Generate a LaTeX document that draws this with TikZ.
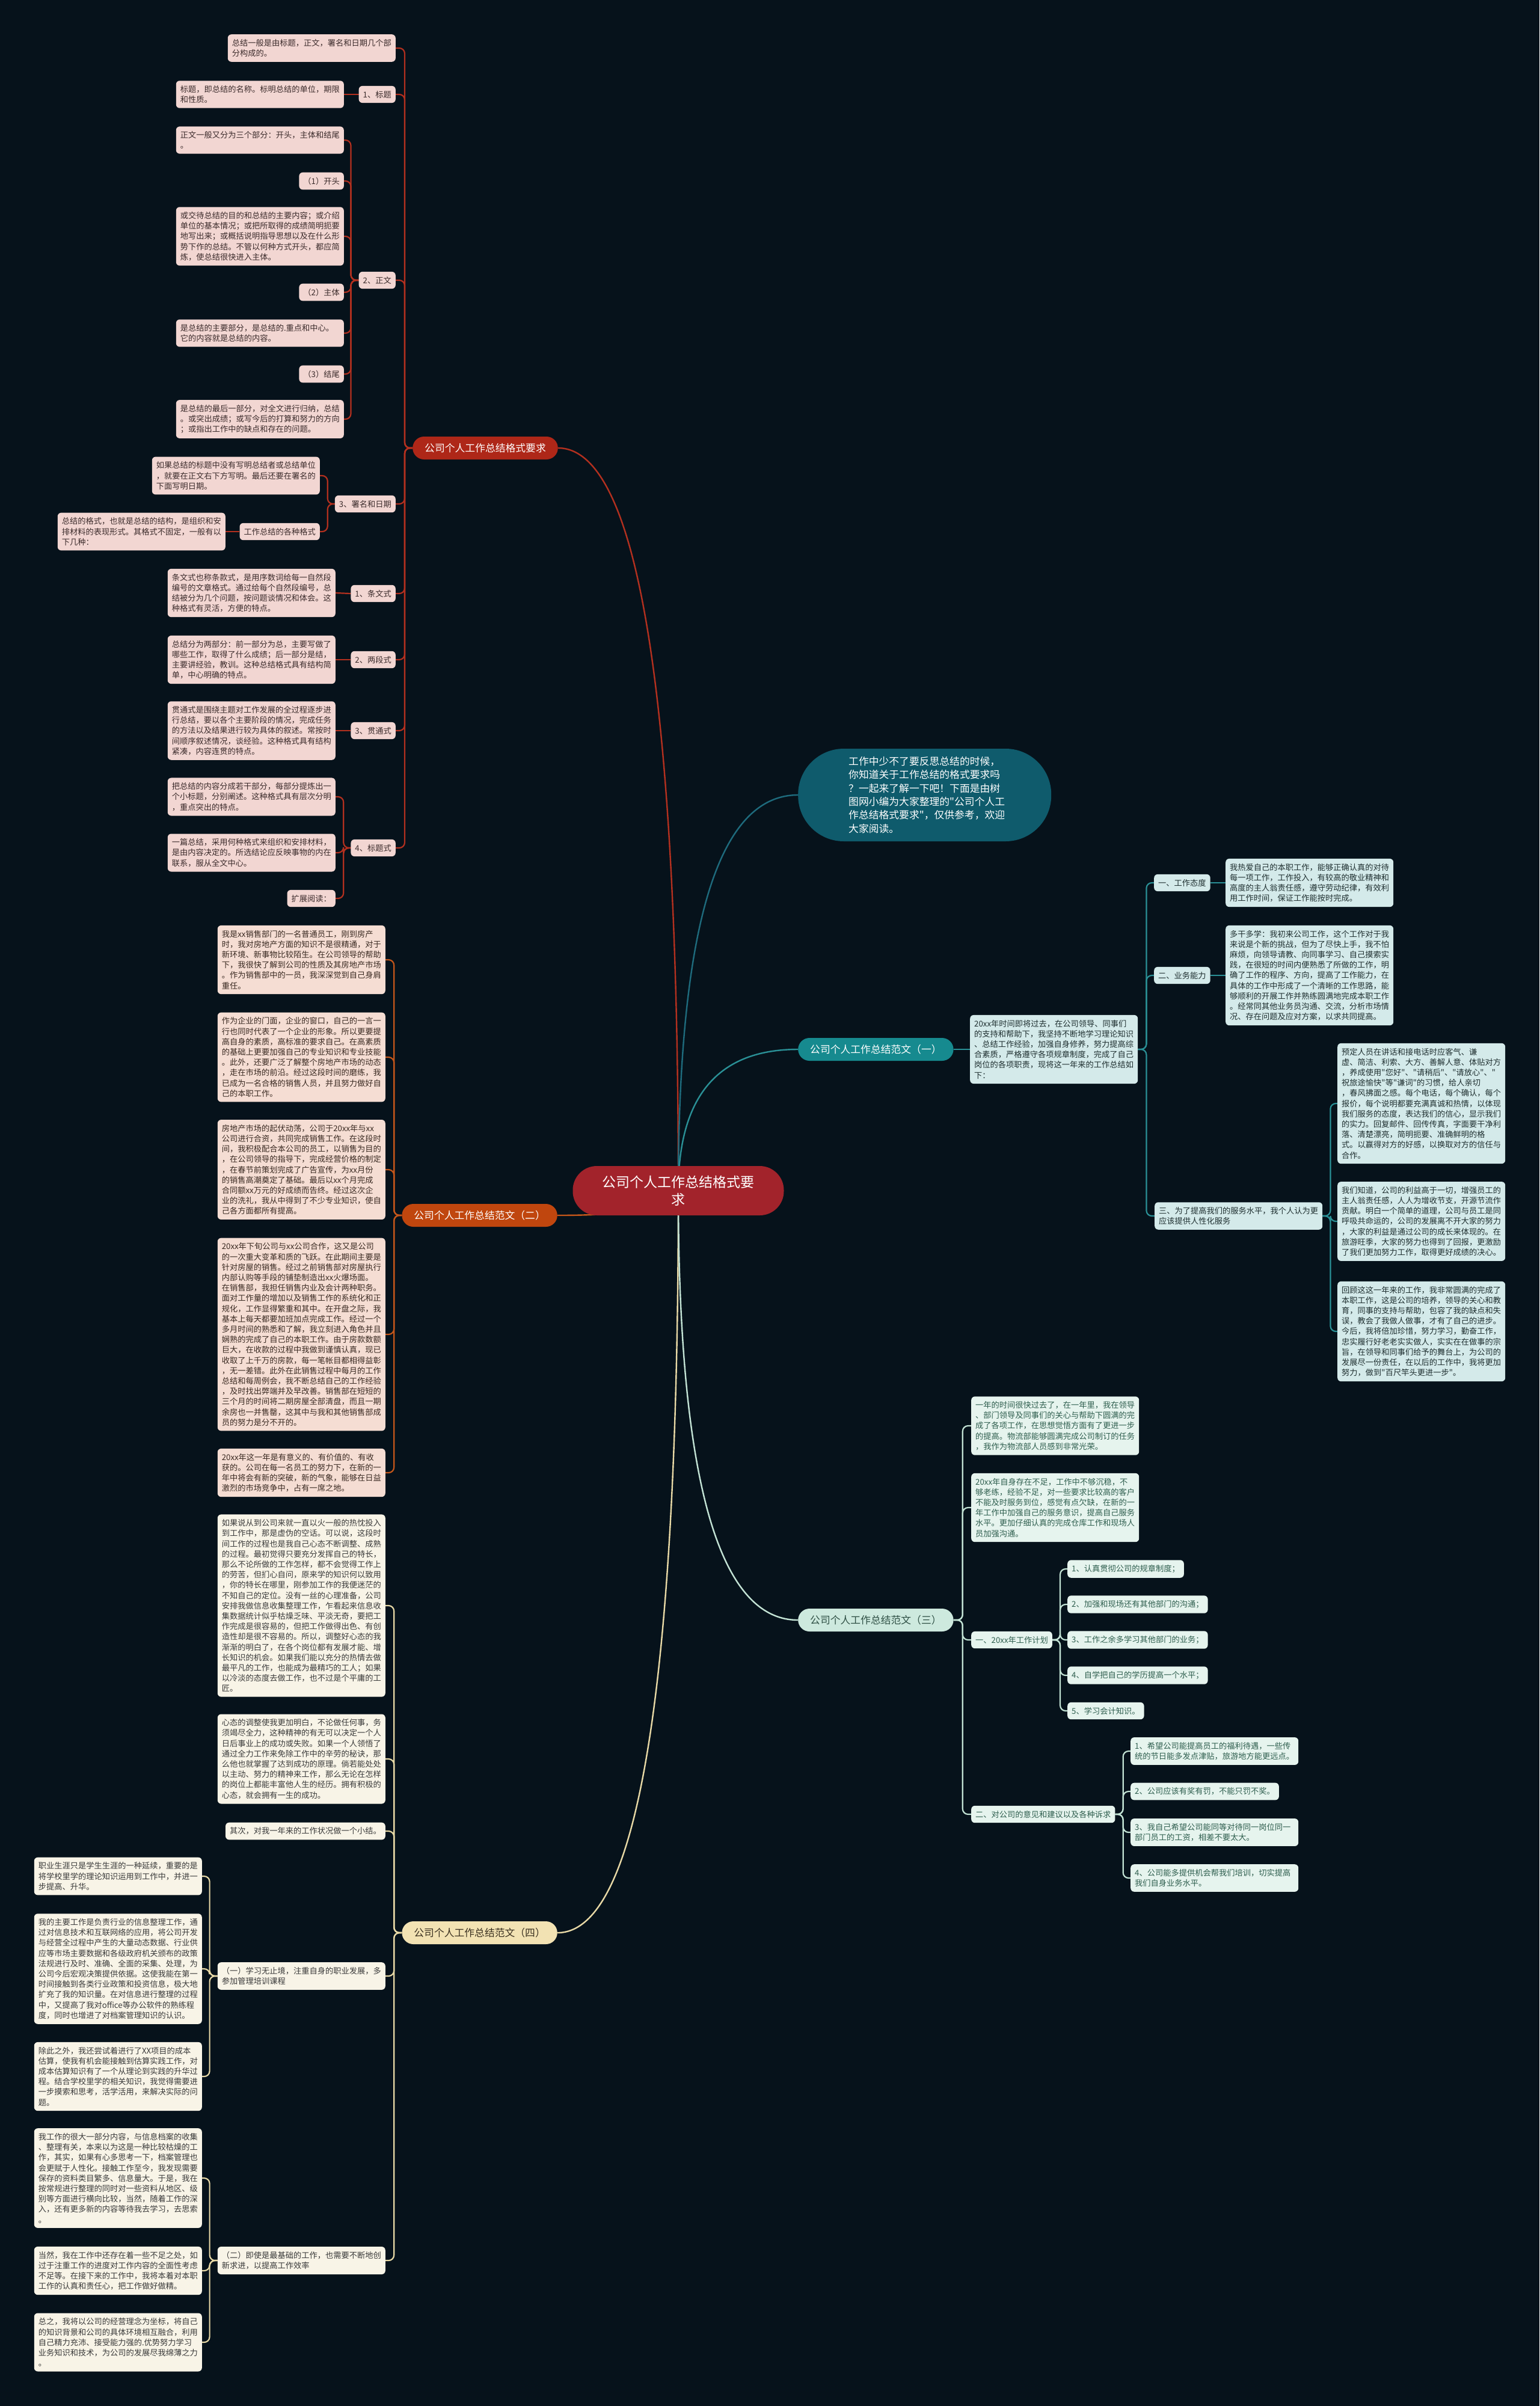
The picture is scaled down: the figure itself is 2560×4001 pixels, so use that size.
\documentclass[tikz,border=0pt]{standalone}
\usepackage{fontspec}
\newfontfamily\cjk{Noto Sans CJK SC}
\pgfdeclarelayer{bgl}
\pgfdeclarelayer{edges}
\pgfsetlayers{bgl,edges,main}
\definecolor{bgc}{HTML}{06121B}
\definecolor{ctrfill}{HTML}{A2232B}
\definecolor{redline}{HTML}{B3301F}
\definecolor{bonefill}{HTML}{AE2718}
\definecolor{pkfill}{HTML}{F2D6D2}
\definecolor{pktext}{HTML}{3B2B2B}
\definecolor{btwofill}{HTML}{C0460E}
\definecolor{btwoline}{HTML}{C4561A}
\definecolor{pcfill}{HTML}{F5DDD3}
\definecolor{pctext}{HTML}{3A2A22}
\definecolor{bfourfill}{HTML}{F2E2B3}
\definecolor{bfourtext}{HTML}{3A3020}
\definecolor{bfourline}{HTML}{E8D9A6}
\definecolor{crfill}{HTML}{F8F4E7}
\definecolor{crtext}{HTML}{3A3A3A}
\definecolor{introfill}{HTML}{0F5B6C}
\definecolor{introline}{HTML}{1E6B7D}
\definecolor{ronefill}{HTML}{168A8F}
\definecolor{roneline}{HTML}{2A9096}
\definecolor{cyfill}{HTML}{D4EAEA}
\definecolor{cytext}{HTML}{1F2F30}
\definecolor{rthreefill}{HTML}{CDE9DE}
\definecolor{rthreetext}{HTML}{2E4F44}
\definecolor{rthreeline}{HTML}{C3E3D5}
\definecolor{mnfill}{HTML}{E6F4EE}
\definecolor{mntext}{HTML}{2E5E4E}
\tikzset{
  txt/.style={font={\cjk\fontsize{13.25}{17.2}\selectfont}},
  box/.style={txt, rounded corners=6pt, inner xsep=7pt, inner ysep=8pt, align=left},
  wbox/.style={box, text width=265pt},
  pkb/.style={fill=pkfill, text=pktext},
  pcb/.style={fill=pcfill, text=pctext},
  crb/.style={fill=crfill, text=crtext},
  cyb/.style={fill=cyfill, text=cytext},
  mnb/.style={fill=mnfill, text=mntext},
  branch/.style={font={\cjk\fontsize{16.8}{20}\selectfont}, rounded corners=19pt, minimum height=38pt, inner xsep=20pt, inner ysep=2pt},
  ctrnode/.style={font={\cjk\fontsize{23}{29.5}\selectfont}, fill=ctrfill, text=white, rounded corners=40pt, minimum width=351pt, minimum height=82pt, align=center},
  intronode/.style={font={\cjk\fontsize{16.8}{22.3}\selectfont}, fill=introfill, text=white, rounded corners=76pt, minimum width=421pt, minimum height=154pt, text width=253pt, align=left},
  ed/.style={line width=2.2pt, rounded corners=9pt},
  topline/.style={line width=2.4pt}
}
\begin{document}
\begin{tikzpicture}[x=1pt,y=-1pt]
\begin{pgfonlayer}{bgl}
\fill[bgc] (0,0) rectangle (2560,4001);
\end{pgfonlayer}
\useasboundingbox (0,0) rectangle (2560,4001);

% ---------- center and branches ----------
\node[ctrnode] (ctr) at (1128,1980) {公司个人工作总结格式要\\求};
\node[branch, fill=bonefill, text=white, anchor=east] (b1) at (928,745) {公司个人工作总结格式要求};
\node[branch, fill=btwofill, text=white, anchor=east] (b2) at (927,2021) {公司个人工作总结范文（二）};
\node[branch, fill=bfourfill, text=bfourtext, anchor=east] (b4) at (927,3214) {公司个人工作总结范文（四）};
\node[intronode, anchor=west] (intro) at (1327,1322) {工作中少不了要反思总结的时候，\\你知道关于工作总结的格式要求吗\\？一起来了解一下吧！下面是由树\\图网小编为大家整理的"公司个人工\\作总结格式要求"，仅供参考，欢迎\\大家阅读。};
\node[branch, fill=ronefill, text=white, anchor=west] (r1) at (1327,1745) {公司个人工作总结范文（一）};
\node[branch, fill=rthreefill, text=rthreetext, anchor=west] (r3) at (1327,2694) {公司个人工作总结范文（三）};

% ---------- branch 1 ----------
\node[wbox,pkb,anchor=east] (t0) at (658,80) {总结一般是由标题，正文，署名和日期几个部\\分构成的。};
\node[box,pkb,anchor=east] (l1) at (658,157) {1、标题};
\node[wbox,pkb,anchor=east] (l1a) at (572,157) {标题，即总结的名称。标明总结的单位，期限\\和性质。};
\node[box,pkb,anchor=east] (l2) at (658,466) {2、正文};
\node[wbox,pkb,anchor=east] (l2a) at (572,233) {正文一般又分为三个部分：开头，主体和结尾\\。};
\node[box,pkb,anchor=east] (l2b) at (572,301) {（1）开头};
\node[wbox,pkb,anchor=east] (l2c) at (572,393) {或交待总结的目的和总结的主要内容；或介绍\\单位的基本情况；或把所取得的成绩简明扼要\\地写出来；或概括说明指导思想以及在什么形\\势下作的总结。不管以何种方式开头，都应简\\炼，使总结很快进入主体。};
\node[box,pkb,anchor=east] (l2d) at (572,486) {（2）主体};
\node[wbox,pkb,anchor=east] (l2e) at (572,554) {是总结的主要部分，是总结的.重点和中心。\\它的内容就是总结的内容。};
\node[box,pkb,anchor=east] (l2f) at (572,622) {（3）结尾};
\node[wbox,pkb,anchor=east] (l2g) at (572,697) {是总结的最后一部分，对全文进行归纳，总结\\。或突出成绩；或写今后的打算和努力的方向\\；或指出工作中的缺点和存在的问题。};
\node[box,pkb,anchor=east] (l3) at (658,838) {3、署名和日期};
\node[wbox,pkb,anchor=east] (l3a) at (532,791) {如果总结的标题中没有写明总结者或总结单位\\，就要在正文右下方写明。最后还要在署名的\\下面写明日期。};
\node[box,pkb,anchor=east] (l3b) at (532,884) {工作总结的各种格式};
\node[wbox,pkb,anchor=east] (l3c) at (375,884) {总结的格式，也就是总结的结构，是组织和安\\排材料的表现形式。其格式不固定，一般有以\\下几种：};
\node[box,pkb,anchor=east] (l4) at (658,987) {1、条文式};
\node[wbox,pkb,anchor=east] (l4a) at (558,986) {条文式也称条款式，是用序数词给每一自然段\\编号的文章格式。通过给每个自然段编号，总\\结被分为几个问题，按问题谈情况和体会。这\\种格式有灵活，方便的特点。};
\node[box,pkb,anchor=east] (l5) at (658,1097) {2、两段式};
\node[wbox,pkb,anchor=east] (l5a) at (558,1097) {总结分为两部分：前一部分为总，主要写做了\\哪些工作，取得了什么成绩；后一部分是结，\\主要讲经验，教训。这种总结格式具有结构简\\单，中心明确的特点。};
\node[box,pkb,anchor=east] (l6) at (658,1215) {3、贯通式};
\node[wbox,pkb,anchor=east] (l6a) at (558,1215) {贯通式是围绕主题对工作发展的全过程逐步进\\行总结，要以各个主要阶段的情况，完成任务\\的方法以及结果进行较为具体的叙述。常按时\\间顺序叙述情况，谈经验。这种格式具有结构\\紧凑，内容连贯的特点。};
\node[box,pkb,anchor=east] (l7) at (658,1410) {4、标题式};
\node[wbox,pkb,anchor=east] (l7a) at (558,1325) {把总结的内容分成若干部分，每部分提炼出一\\个小标题，分别阐述。这种格式具有层次分明\\，重点突出的特点。};
\node[wbox,pkb,anchor=east] (l7b) at (558,1418) {一篇总结，采用何种格式来组织和安排材料，\\是由内容决定的。所选结论应反映事物的内在\\联系，服从全文中心。};
\node[box,pkb,anchor=east] (l7c) at (558,1494) {扩展阅读：};

% ---------- branch 2 ----------
\node[wbox,pcb,anchor=east] (b2a) at (641,1596) {我是xx销售部门的一名普通员工，刚到房产\\时，我对房地产方面的知识不是很精通，对于\\新环境、新事物比较陌生。在公司领导的帮助\\下，我很快了解到公司的性质及其房地产市场\\。作为销售部中的一员，我深深觉到自己身肩\\重任。};
\node[wbox,pcb,anchor=east] (b2b) at (641,1758) {作为企业的门面，企业的窗口，自己的一言一\\行也同时代表了一个企业的形象。所以更要提\\高自身的素质，高标准的要求自己。在高素质\\的基础上更要加强自己的专业知识和专业技能\\。此外，还要广泛了解整个房地产市场的动态\\，走在市场的前沿。经过这段时间的磨练，我\\已成为一名合格的销售人员，并且努力做好自\\己的本职工作。};
\node[wbox,pcb,anchor=east] (b2c) at (641,1945) {房地产市场的起伏动荡，公司于20xx年与xx\\公司进行合资，共同完成销售工作。在这段时\\间，我积极配合本公司的员工，以销售为目的\\，在公司领导的指导下，完成经营价格的制定\\，在春节前策划完成了广告宣传，为xx月份\\的销售高潮奠定了基础。最后以xx个月完成\\合同额xx万元的好成绩而告终。经过这次企\\业的洗礼，我从中得到了不少专业知识，使自\\己各方面都所有提高。};
\node[wbox,pcb,anchor=east] (b2d) at (641,2219) {20xx年下旬公司与xx公司合作，这又是公司\\的一次重大变革和质的飞跃。在此期间主要是\\针对房屋的销售。经过之前销售部对房屋执行\\内部认购等手段的铺垫制造出xx火爆场面。\\在销售部，我担任销售内业及会计两种职务。\\面对工作量的增加以及销售工作的系统化和正\\规化，工作显得繁重和其中。在开盘之际，我\\基本上每天都要加班加点完成工作。经过一个\\多月时间的熟悉和了解，我立刻进入角色并且\\娴熟的完成了自己的本职工作。由于房款数额\\巨大，在收款的过程中我做到谨慎认真，现已\\收取了上千万的房款，每一笔帐目都相得益彰\\，无一差错。此外在此销售过程中每月的工作\\总结和每周例会，我不断总结自己的工作经验\\，及时找出弊端并及早改善。销售部在短短的\\三个月的时间将二期房屋全部清盘，而且一期\\余房也一并售罄，这其中与我和其他销售部成\\员的努力是分不开的。};
\node[wbox,pcb,anchor=east] (b2e) at (641,2449) {20xx年这一年是有意义的、有价值的、有收\\获的。公司在每一名员工的努力下，在新的一\\年中将会有新的突破，新的气象，能够在日益\\激烈的市场竞争中，占有一席之地。};

% ---------- branch 4 ----------
\node[wbox,crb,anchor=east] (b4a) at (641,2670) {如果说从到公司来就一直以火一般的热忱投入\\到工作中，那是虚伪的空话。可以说，这段时\\间工作的过程也是我自己心态不断调整、成熟\\的过程。最初觉得只要充分发挥自己的特长，\\那么不论所做的工作怎样，都不会觉得工作上\\的劳苦，但扪心自问，原来学的知识何以致用\\，你的特长在哪里，刚参加工作的我便迷茫的\\不知自己的定位。没有一丝的心理准备，公司\\安排我做信息收集整理工作，乍看起来信息收\\集数据统计似乎枯燥乏味、平淡无奇，要把工\\作完成是很容易的，但把工作做得出色、有创\\造性却是很不容易的。所以，调整好心态的我\\渐渐的明白了，在各个岗位都有发展才能、增\\长知识的机会。如果我们能以充分的热情去做\\最平凡的工作，也能成为最精巧的工人；如果\\以冷淡的态度去做工作，也不过是个平庸的工\\匠。};
\node[wbox,crb,anchor=east] (b4b) at (641,2925) {心态的调整使我更加明白，不论做任何事，务\\须竭尽全力，这种精神的有无可以决定一个人\\日后事业上的成功或失败。如果一个人领悟了\\通过全力工作来免除工作中的辛劳的秘诀，那\\么他也就掌握了达到成功的原理。倘若能处处\\以主动、努力的精神来工作，那么无论在怎样\\的岗位上都能丰富他人生的经历。拥有积极的\\心态，就会拥有一生的成功。};
\node[box,crb,anchor=east] (b4c) at (641,3045) {其次，对我一年来的工作状况做一个小结。};
\node[wbox,crb,anchor=east] (b4d) at (641,3286) {（一）学习无止境，注重自身的职业发展，多\\参加管理培训课程};
\node[wbox,crb,anchor=east] (b4e) at (641,3759) {（二）即使是最基础的工作，也需要不断地创\\新求进，以提高工作效率};
\node[wbox,crb,anchor=east] (b4d1) at (336,3120) {职业生涯只是学生生涯的一种延续，重要的是\\将学校里学的理论知识运用到工作中，并进一\\步提高、升华。};
\node[wbox,crb,anchor=east] (b4d2) at (336,3274) {我的主要工作是负责行业的信息整理工作，通\\过对信息技术和互联网络的应用，将公司开发\\与经营全过程中产生的大量动态数据、行业供\\应等市场主要数据和各级政府机关颁布的政策\\法规进行及时、准确、全面的采集、处理，为\\公司今后宏观决策提供依据。这使我能在第一\\时间接触到各类行业政策和投资信息，极大地\\扩充了我的知识量。在对信息进行整理的过程\\中，又提高了我对office等办公软件的熟练程\\度，同时也增进了对档案管理知识的认识。};
\node[wbox,crb,anchor=east] (b4d3) at (336,3453) {除此之外，我还尝试着进行了XX项目的成本\\估算，使我有机会能接触到估算实践工作，对\\成本估算知识有了一个从理论到实践的升华过\\程。结合学校里学的相关知识，我觉得需要进\\一步摸索和思考，活学活用，来解决实际的问\\题。};
\node[wbox,crb,anchor=east] (b4e1) at (336,3622) {我工作的很大一部分内容，与信息档案的收集\\、整理有关，本来以为这是一种比较枯燥的工\\作，其实，如果有心多思考一下，档案管理也\\会更赋于人性化。接触工作至今，我发现需要\\保存的资料类目繁多、信息量大。于是，我在\\按常规进行整理的同时对一些资料从地区、级\\别等方面进行横向比较，当然，随着工作的深\\入，还有更多新的内容等待我去学习，去思索\\。};
\node[wbox,crb,anchor=east] (b4e2) at (336,3776) {当然，我在工作中还存在着一些不足之处，如\\过于注重工作的进度对工作内容的全面性考虑\\不足等。在接下来的工作中，我将本着对本职\\工作的认真和责任心，把工作做好做精。};
\node[wbox,crb,anchor=east] (b4e3) at (336,3895) {总之，我将以公司的经营理念为坐标，将自己\\的知识背景和公司的具体环境相互融合，利用\\自己精力充沛、接受能力强的.优势努力学习\\业务知识和技术，为公司的发展尽我绵薄之力\\。};

% ---------- right branch 1 ----------
\node[wbox,cyb,anchor=west] (r1a) at (1613,1745) {20xx年时间即将过去，在公司领导、同事们\\的支持和帮助下，我坚持不断地学习理论知识\\、总结工作经验，加强自身修养，努力提高综\\合素质，严格遵守各项规章制度，完成了自己\\岗位的各项职责，现将这一年来的工作总结如\\下：};
\node[box,cyb,anchor=west] (r1b) at (1919,1468) {一、工作态度};
\node[wbox,cyb,anchor=west] (r1b1) at (2038,1468) {我热爱自己的本职工作，能够正确认真的对待\\每一项工作，工作投入，有较高的敬业精神和\\高度的主人翁责任感，遵守劳动纪律，有效利\\用工作时间，保证工作能按时完成。};
\node[box,cyb,anchor=west] (r1c) at (1919,1622) {二、业务能力};
\node[wbox,cyb,anchor=west] (r1c1) at (2038,1622) {多干多学：我初来公司工作，这个工作对于我\\来说是个新的挑战，但为了尽快上手，我不怕\\麻烦，向领导请教、向同事学习、自己摸索实\\践，在很短的时间内便熟悉了所做的工作，明\\确了工作的程序、方向，提高了工作能力，在\\具体的工作中形成了一个清晰的工作思路，能\\够顺利的开展工作并熟练圆满地完成本职工作\\。经常同其他业务员沟通、交流，分析市场情\\况、存在问题及应对方案，以求共同提高。};
\node[wbox,cyb,anchor=west] (r1d) at (1920,2022) {三、为了提高我们的服务水平，我个人认为更\\应该提供人性化服务};
\node[wbox,cyb,anchor=west] (r1d1) at (2224,1835) {预定人员在讲话和接电话时应客气、谦\\虚、简洁、利索、大方、善解人意、体贴对方\\，养成使用"您好"、"请稍后"、"请放心"、"\\祝旅途愉快"等"谦词"的习惯，给人亲切\\，春风拂面之感。每个电话，每个确认，每个\\报价，每个说明都要充满真诚和热情，以体现\\我们服务的态度，表达我们的信心，显示我们\\的实力。回复邮件、回传传真，字面要干净利\\落、清楚漂亮，简明扼要、准确鲜明的格\\式。以赢得对方的好感，以换取对方的信任与\\合作。};
\node[wbox,cyb,anchor=west] (r1d2) at (2224,2031) {我们知道，公司的利益高于一切，增强员工的\\主人翁责任感，人人为增收节支，开源节流作\\贡献。明白一个简单的道理，公司与员工是同\\呼吸共命运的，公司的发展离不开大家的努力\\，大家的利益是通过公司的成长来体现的。在\\旅游旺季，大家的努力也得到了回报，更激励\\了我们更加努力工作，取得更好成绩的决心。};
\node[wbox,cyb,anchor=west] (r1d3) at (2224,2214) {回顾这这一年来的工作，我非常圆满的完成了\\本职工作，这是公司的培养，领导的关心和教\\育，同事的支持与帮助，包容了我的缺点和失\\误，教会了我做人做事，才有了自己的进步。\\今后，我将倍加珍惜，努力学习，勤奋工作，\\忠实履行好老老实实做人，实实在在做事的宗\\旨，在领导和同事们给予的舞台上，为公司的\\发展尽一份责任，在以后的工作中，我将更加\\努力，做到"百尺竿头更进一步"。\\ };

% ---------- right branch 3 ----------
\node[wbox,mnb,anchor=west] (r3a) at (1615,2371) {一年的时间很快过去了，在一年里，我在领导\\、部门领导及同事们的关心与帮助下圆满的完\\成了各项工作，在思想觉悟方面有了更进一步\\的提高。物流部能够圆满完成公司制订的任务\\，我作为物流部人员感到非常光荣。};
\node[wbox,mnb,anchor=west] (r3b) at (1615,2507) {20xx年自身存在不足，工作中不够沉稳，不\\够老练，经验不足，对一些要求比较高的客户\\不能及时服务到位，感觉有点欠缺，在新的一\\年工作中加强自己的服务意识，提高自己服务\\水平。更加仔细认真的完成仓库工作和现场人\\员加强沟通。};
\node[box,mnb,anchor=west] (r3c) at (1615,2727) {一、20xx年工作计划};
\node[box,mnb,anchor=west] (r3c1) at (1775,2609) {1、认真贯彻公司的规章制度；};
\node[box,mnb,anchor=west] (r3c2) at (1775,2668) {2、加强和现场还有其他部门的沟通；};
\node[box,mnb,anchor=west] (r3c3) at (1775,2727) {3、工作之余多学习其他部门的业务；};
\node[box,mnb,anchor=west] (r3c4) at (1775,2786) {4、自学把自己的学历提高一个水平；};
\node[box,mnb,anchor=west] (r3c5) at (1775,2845) {5、学习会计知识。};
\node[box,mnb,anchor=west] (r3d) at (1615,3017) {二、对公司的意见和建议以及各种诉求};
\node[wbox,mnb,anchor=west] (r3d1) at (1880,2912) {1、希望公司能提高员工的福利待遇，一些传\\统的节日能多发点津贴，旅游地方能更远点。};
\node[box,mnb,anchor=west] (r3d2) at (1880,2979) {2、公司应该有奖有罚，不能只罚不奖。};
\node[wbox,mnb,anchor=west] (r3d3) at (1880,3047) {3、我自己希望公司能同等对待同一岗位同一\\部门员工的工资，相差不要太大。};
\node[wbox,mnb,anchor=west] (r3d4) at (1880,3123) {4、公司能多提供机会帮我们培训，切实提高\\我们自身业务水平。};

% ---------- connectors ----------
\begin{pgfonlayer}{edges}
\draw[topline, draw=redline] (ctr.center) .. controls (1128,1157) and (1061,745) .. (b1.east);
\draw[topline, draw=btwoline] (ctr.center) .. controls (1128,2007) and (1061,2021) .. (b2.east);
\draw[topline, draw=bfourline] (ctr.center) .. controls (1128,2803) and (1061,3214) .. (b4.east);
\draw[topline, draw=introline] (ctr.center) .. controls (1128,1541) and (1194,1322) .. (intro.west);
\draw[topline, draw=roneline] (ctr.center) .. controls (1128,1823) and (1194,1745) .. (r1.west);
\draw[topline, draw=rthreeline] (ctr.center) .. controls (1128,2456) and (1194,2694) .. (r3.west);

\foreach \c in {t0,l1,l2,l3,l4,l5,l6,l7}
  \draw[ed, draw=redline] (b1.west) -- ++(-13,0) |- (\c.east);
\draw[ed, draw=redline] (l1.west) -- (l1a.east);
\foreach \c in {l2a,l2b,l2c,l2d,l2e,l2f,l2g}
  \draw[ed, draw=redline] (l2.west) -- ++(-13,0) |- (\c.east);
\foreach \c in {l3a,l3b}
  \draw[ed, draw=redline] (l3.west) -- ++(-12,0) |- (\c.east);
\draw[ed, draw=redline] (l3b.west) -- (l3c.east);
\draw[ed, draw=redline] (l4.west) -- (l4a.east);
\draw[ed, draw=redline] (l5.west) -- (l5a.east);
\draw[ed, draw=redline] (l6.west) -- (l6a.east);
\foreach \c in {l7a,l7b,l7c}
  \draw[ed, draw=redline] (l7.west) -- ++(-12,0) |- (\c.east);

\foreach \c in {b2a,b2b,b2c,b2d,b2e}
  \draw[ed, draw=btwoline] (b2.west) -- ++(-13,0) |- (\c.east);

\foreach \c in {b4a,b4b,b4c,b4d,b4e}
  \draw[ed, draw=bfourline] (b4.west) -- ++(-13,0) |- (\c.east);
\foreach \c in {b4d1,b4d2,b4d3}
  \draw[ed, draw=bfourline] (b4d.west) -- ++(-13,0) |- (\c.east);
\foreach \c in {b4e1,b4e2,b4e3}
  \draw[ed, draw=bfourline] (b4e.west) -- ++(-13,0) |- (\c.east);

\draw[ed, draw=roneline] (r1.east) -- (r1a.west);
\foreach \c in {r1b,r1c,r1d}
  \draw[ed, draw=roneline] (r1a.east) -- ++(14,0) |- (\c.west);
\draw[ed, draw=roneline] (r1b.east) -- (r1b1.west);
\draw[ed, draw=roneline] (r1c.east) -- (r1c1.west);
\foreach \c in {r1d1,r1d2,r1d3}
  \draw[ed, draw=roneline] (r1d.east) -- ++(13,0) |- (\c.west);

\foreach \c in {r3a,r3b,r3c,r3d}
  \draw[ed, draw=rthreeline] (r3.east) -- ++(15,0) |- (\c.west);
\foreach \c in {r3c1,r3c2,r3c3,r3c4,r3c5}
  \draw[ed, draw=rthreeline] (r3c.east) -- ++(13,0) |- (\c.west);
\foreach \c in {r3d1,r3d2,r3d3,r3d4}
  \draw[ed, draw=rthreeline] (r3d.east) -- ++(13,0) |- (\c.west);
\end{pgfonlayer}
\end{tikzpicture}
\end{document}
